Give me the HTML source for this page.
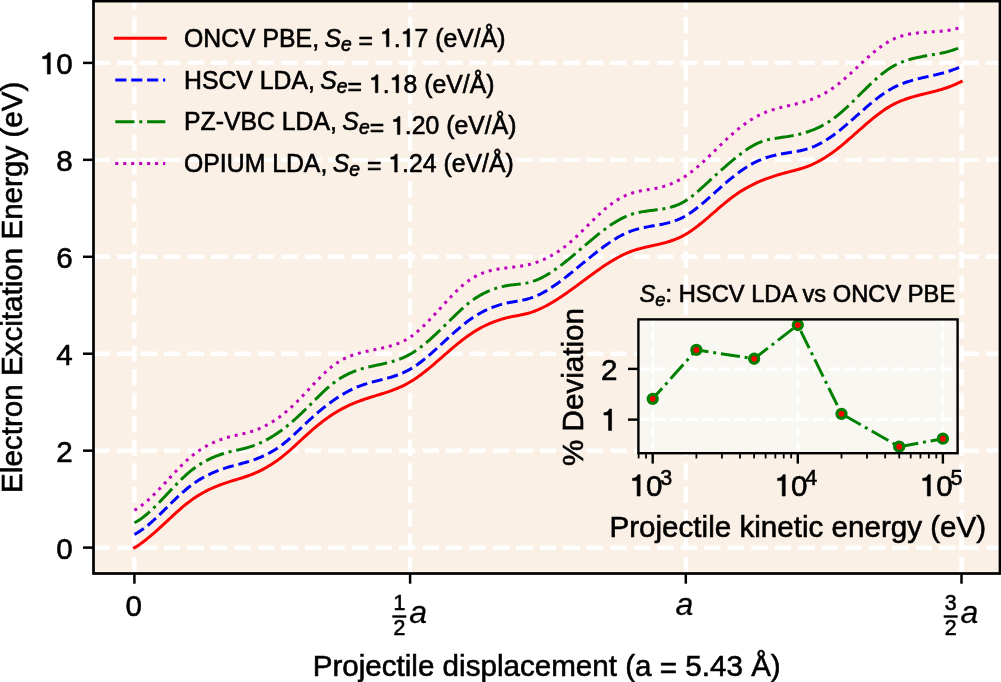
<!DOCTYPE html><html><head><meta charset="utf-8"><style>html,body{margin:0;padding:0;background:#fff;width:1001px;height:682px;overflow:hidden}svg{display:block}text{font-family:"Liberation Sans",sans-serif;fill:#000;stroke:#000;stroke-width:0.6px}.it{font-style:italic}.one{fill-opacity:0;stroke-opacity:0}</style></head><body>
<svg width="1001" height="682" viewBox="0 0 1001 682" style="will-change:transform">
<defs><path id="g1" d="M258 0L359 0L359 -703L285 -703C268 -640 220 -588 101 -581L101 -507L258 -507Z"/></defs>
<rect x="93.5" y="1.1" width="906.5" height="572.4" fill="#FAF0E6"/>
<line x1="93.5" y1="547.6" x2="1000.0" y2="547.6" stroke="#fff" stroke-width="4.4" stroke-dasharray="16.4 7.09"/>
<line x1="93.5" y1="450.66" x2="1000.0" y2="450.66" stroke="#fff" stroke-width="4.4" stroke-dasharray="16.4 7.09"/>
<line x1="93.5" y1="353.72" x2="1000.0" y2="353.72" stroke="#fff" stroke-width="4.4" stroke-dasharray="16.4 7.09"/>
<line x1="93.5" y1="256.78" x2="1000.0" y2="256.78" stroke="#fff" stroke-width="4.4" stroke-dasharray="16.4 7.09"/>
<line x1="93.5" y1="159.84" x2="1000.0" y2="159.84" stroke="#fff" stroke-width="4.4" stroke-dasharray="16.4 7.09"/>
<line x1="93.5" y1="62.9" x2="1000.0" y2="62.9" stroke="#fff" stroke-width="4.4" stroke-dasharray="16.4 7.09"/>
<line x1="134.4" y1="573.5" x2="134.4" y2="1.1" stroke="#fff" stroke-width="4.4" stroke-dasharray="16.4 7.09"/>
<line x1="410.1" y1="573.5" x2="410.1" y2="1.1" stroke="#fff" stroke-width="4.4" stroke-dasharray="16.4 7.09"/>
<line x1="685.8" y1="573.5" x2="685.8" y2="1.1" stroke="#fff" stroke-width="4.4" stroke-dasharray="16.4 7.09"/>
<line x1="961.5" y1="573.5" x2="961.5" y2="1.1" stroke="#fff" stroke-width="4.4" stroke-dasharray="16.4 7.09"/>
<g fill="none" stroke-width="3" stroke-linejoin="round">
<path d="M134.4 547.81 L135.9 546.89 L137.4 545.93 L138.9 544.93 L140.4 543.88 L141.9 542.8 L143.4 541.69 L144.9 540.54 L146.4 539.36 L147.9 538.16 L149.4 536.92 L150.9 535.66 L152.4 534.38 L153.9 533.08 L155.4 531.76 L156.9 530.42 L158.4 529.07 L159.9 527.71 L161.4 526.33 L162.9 524.95 L164.4 523.56 L165.9 522.17 L167.4 520.78 L168.9 519.38 L170.4 517.99 L171.9 516.6 L173.4 515.22 L174.9 513.84 L176.4 512.48 L177.9 511.14 L179.4 509.81 L180.9 508.5 L182.4 507.21 L183.9 505.95 L185.4 504.71 L186.9 503.5 L188.4 502.33 L189.9 501.19 L191.4 500.09 L192.9 499.03 L194.4 498 L195.9 497 L197.4 496.04 L198.9 495.11 L200.4 494.22 L201.9 493.35 L203.4 492.52 L204.9 491.71 L206.4 490.93 L207.9 490.18 L209.4 489.45 L210.9 488.75 L212.4 488.07 L213.9 487.41 L215.4 486.78 L216.9 486.16 L218.4 485.57 L219.9 484.99 L221.4 484.44 L222.9 483.9 L224.4 483.37 L225.9 482.86 L227.4 482.36 L228.9 481.87 L230.4 481.4 L231.9 480.94 L233.4 480.48 L234.9 480.03 L236.4 479.58 L237.9 479.13 L239.4 478.68 L240.9 478.22 L242.4 477.75 L243.9 477.27 L245.4 476.77 L246.9 476.26 L248.4 475.73 L249.9 475.18 L251.4 474.61 L252.9 474.01 L254.4 473.38 L255.9 472.73 L257.4 472.05 L258.9 471.34 L260.4 470.61 L261.9 469.85 L263.4 469.06 L264.9 468.25 L266.4 467.4 L267.9 466.53 L269.4 465.63 L270.9 464.7 L272.4 463.74 L273.9 462.75 L275.4 461.73 L276.9 460.68 L278.4 459.6 L279.9 458.48 L281.4 457.34 L282.9 456.16 L284.4 454.95 L285.9 453.71 L287.4 452.45 L288.9 451.15 L290.4 449.83 L291.9 448.5 L293.4 447.14 L294.9 445.78 L296.4 444.4 L297.9 443.01 L299.4 441.62 L300.9 440.23 L302.4 438.84 L303.9 437.46 L305.4 436.08 L306.9 434.72 L308.4 433.36 L309.9 432.03 L311.4 430.71 L312.9 429.41 L314.4 428.13 L315.9 426.87 L317.4 425.63 L318.9 424.42 L320.4 423.22 L321.9 422.05 L323.4 420.91 L324.9 419.78 L326.4 418.68 L327.9 417.61 L329.4 416.56 L330.9 415.54 L332.4 414.55 L333.9 413.58 L335.4 412.65 L336.9 411.74 L338.4 410.86 L339.9 410 L341.4 409.17 L342.9 408.37 L344.4 407.59 L345.9 406.84 L347.4 406.11 L348.9 405.4 L350.4 404.72 L351.9 404.06 L353.4 403.42 L354.9 402.8 L356.4 402.19 L357.9 401.61 L359.4 401.05 L360.9 400.5 L362.4 399.97 L363.9 399.46 L365.4 398.95 L366.9 398.46 L368.4 397.98 L369.9 397.5 L371.4 397.04 L372.9 396.57 L374.4 396.11 L375.9 395.65 L377.4 395.19 L378.9 394.73 L380.4 394.27 L381.9 393.8 L383.4 393.33 L384.9 392.84 L386.4 392.35 L387.9 391.85 L389.4 391.33 L390.9 390.8 L392.4 390.25 L393.9 389.69 L395.4 389.1 L396.9 388.5 L398.4 387.87 L399.9 387.21 L401.4 386.53 L402.9 385.82 L404.4 385.08 L405.9 384.31 L407.4 383.51 L408.9 382.67 L410.4 381.79 L411.9 380.87 L413.4 379.92 L414.9 378.93 L416.4 377.91 L417.9 376.86 L419.4 375.79 L420.9 374.68 L422.4 373.55 L423.9 372.39 L425.4 371.21 L426.9 370.01 L428.4 368.79 L429.9 367.56 L431.4 366.31 L432.9 365.04 L434.4 363.77 L435.9 362.48 L437.4 361.19 L438.9 359.89 L440.4 358.58 L441.9 357.27 L443.4 355.96 L444.9 354.66 L446.4 353.35 L447.9 352.05 L449.4 350.75 L450.9 349.46 L452.4 348.18 L453.9 346.91 L455.4 345.65 L456.9 344.41 L458.4 343.19 L459.9 341.98 L461.4 340.79 L462.9 339.62 L464.4 338.48 L465.9 337.36 L467.4 336.27 L468.9 335.21 L470.4 334.18 L471.9 333.17 L473.4 332.2 L474.9 331.26 L476.4 330.36 L477.9 329.48 L479.4 328.63 L480.9 327.8 L482.4 327.01 L483.9 326.25 L485.4 325.51 L486.9 324.8 L488.4 324.12 L489.9 323.47 L491.4 322.84 L492.9 322.23 L494.4 321.66 L495.9 321.11 L497.4 320.58 L498.9 320.07 L500.4 319.59 L501.9 319.14 L503.4 318.71 L504.9 318.3 L506.4 317.91 L507.9 317.54 L509.4 317.2 L510.9 316.87 L512.4 316.57 L513.9 316.27 L515.4 315.98 L516.9 315.69 L518.4 315.41 L519.9 315.11 L521.4 314.81 L522.9 314.5 L524.4 314.17 L525.9 313.81 L527.4 313.43 L528.9 313.02 L530.4 312.58 L531.9 312.09 L533.4 311.57 L534.9 311.02 L536.4 310.43 L537.9 309.81 L539.4 309.16 L540.9 308.48 L542.4 307.76 L543.9 307.02 L545.4 306.25 L546.9 305.46 L548.4 304.63 L549.9 303.79 L551.4 302.92 L552.9 302.03 L554.4 301.11 L555.9 300.18 L557.4 299.23 L558.9 298.26 L560.4 297.27 L561.9 296.27 L563.4 295.25 L564.9 294.22 L566.4 293.17 L567.9 292.12 L569.4 291.05 L570.9 289.98 L572.4 288.89 L573.9 287.8 L575.4 286.7 L576.9 285.6 L578.4 284.49 L579.9 283.38 L581.4 282.27 L582.9 281.16 L584.4 280.05 L585.9 278.94 L587.4 277.83 L588.9 276.72 L590.4 275.62 L591.9 274.53 L593.4 273.44 L594.9 272.36 L596.4 271.28 L597.9 270.22 L599.4 269.17 L600.9 268.13 L602.4 267.1 L603.9 266.09 L605.4 265.09 L606.9 264.11 L608.4 263.15 L609.9 262.2 L611.4 261.27 L612.9 260.37 L614.4 259.48 L615.9 258.62 L617.4 257.78 L618.9 256.97 L620.4 256.18 L621.9 255.42 L623.4 254.69 L624.9 253.99 L626.4 253.31 L627.9 252.67 L629.4 252.06 L630.9 251.48 L632.4 250.94 L633.9 250.42 L635.4 249.94 L636.9 249.48 L638.4 249.04 L639.9 248.62 L641.4 248.22 L642.9 247.84 L644.4 247.48 L645.9 247.12 L647.4 246.78 L648.9 246.44 L650.4 246.11 L651.9 245.78 L653.4 245.45 L654.9 245.12 L656.4 244.79 L657.9 244.45 L659.4 244.1 L660.9 243.74 L662.4 243.37 L663.9 242.98 L665.4 242.58 L666.9 242.16 L668.4 241.71 L669.9 241.24 L671.4 240.75 L672.9 240.23 L674.4 239.67 L675.9 239.08 L677.4 238.46 L678.9 237.8 L680.4 237.1 L681.9 236.36 L683.4 235.57 L684.9 234.74 L686.4 233.86 L687.9 232.94 L689.4 231.97 L690.9 230.97 L692.4 229.93 L693.9 228.86 L695.4 227.75 L696.9 226.62 L698.4 225.46 L699.9 224.27 L701.4 223.06 L702.9 221.83 L704.4 220.59 L705.9 219.33 L707.4 218.05 L708.9 216.77 L710.4 215.48 L711.9 214.18 L713.4 212.88 L714.9 211.58 L716.4 210.28 L717.9 208.98 L719.4 207.69 L720.9 206.41 L722.4 205.14 L723.9 203.88 L725.4 202.64 L726.9 201.42 L728.4 200.22 L729.9 199.04 L731.4 197.88 L732.9 196.76 L734.4 195.66 L735.9 194.6 L737.4 193.56 L738.9 192.56 L740.4 191.59 L741.9 190.64 L743.4 189.73 L744.9 188.84 L746.4 187.98 L747.9 187.14 L749.4 186.33 L750.9 185.55 L752.4 184.79 L753.9 184.05 L755.4 183.34 L756.9 182.64 L758.4 181.97 L759.9 181.32 L761.4 180.69 L762.9 180.08 L764.4 179.49 L765.9 178.92 L767.4 178.37 L768.9 177.83 L770.4 177.3 L771.9 176.8 L773.4 176.3 L774.9 175.83 L776.4 175.36 L777.9 174.91 L779.4 174.47 L780.9 174.04 L782.4 173.62 L783.9 173.21 L785.4 172.81 L786.9 172.42 L788.4 172.03 L789.9 171.65 L791.4 171.26 L792.9 170.87 L794.4 170.48 L795.9 170.07 L797.4 169.66 L798.9 169.23 L800.4 168.79 L801.9 168.33 L803.4 167.85 L804.9 167.34 L806.4 166.81 L807.9 166.26 L809.4 165.67 L810.9 165.05 L812.4 164.39 L813.9 163.71 L815.4 162.98 L816.9 162.23 L818.4 161.44 L819.9 160.63 L821.4 159.78 L822.9 158.9 L824.4 157.98 L825.9 157.04 L827.4 156.07 L828.9 155.07 L830.4 154.04 L831.9 152.97 L833.4 151.88 L834.9 150.77 L836.4 149.62 L837.9 148.45 L839.4 147.26 L840.9 146.04 L842.4 144.81 L843.9 143.56 L845.4 142.29 L846.9 141.01 L848.4 139.71 L849.9 138.41 L851.4 137.1 L852.9 135.78 L854.4 134.45 L855.9 133.13 L857.4 131.8 L858.9 130.47 L860.4 129.14 L861.9 127.82 L863.4 126.51 L864.9 125.21 L866.4 123.91 L867.9 122.63 L869.4 121.36 L870.9 120.1 L872.4 118.87 L873.9 117.65 L875.4 116.46 L876.9 115.28 L878.4 114.14 L879.9 113.02 L881.4 111.92 L882.9 110.86 L884.4 109.84 L885.9 108.84 L887.4 107.88 L888.9 106.96 L890.4 106.08 L891.9 105.24 L893.4 104.44 L894.9 103.68 L896.4 102.95 L897.9 102.26 L899.4 101.6 L900.9 100.97 L902.4 100.37 L903.9 99.8 L905.4 99.25 L906.9 98.72 L908.4 98.22 L909.9 97.74 L911.4 97.28 L912.9 96.84 L914.4 96.41 L915.9 95.99 L917.4 95.59 L918.9 95.2 L920.4 94.81 L921.9 94.44 L923.4 94.07 L924.9 93.7 L926.4 93.34 L927.9 92.97 L929.4 92.61 L930.9 92.24 L932.4 91.87 L933.9 91.49 L935.4 91.1 L936.9 90.71 L938.4 90.3 L939.9 89.88 L941.4 89.44 L942.9 88.99 L944.4 88.52 L945.9 88.03 L947.4 87.52 L948.9 86.99 L950.4 86.43 L951.9 85.84 L953.4 85.23 L954.9 84.59 L956.4 83.91 L957.9 83.21 L959.4 82.47 L961.2 81.53" stroke="#ff0000" stroke-linecap="square" />
<path d="M134.4 534.38 L135.9 533.6 L137.4 532.75 L138.9 531.85 L140.4 530.88 L141.9 529.85 L143.4 528.77 L144.9 527.65 L146.4 526.47 L147.9 525.25 L149.4 523.99 L150.9 522.7 L152.4 521.37 L153.9 520 L155.4 518.62 L156.9 517.2 L158.4 515.77 L159.9 514.32 L161.4 512.86 L162.9 511.38 L164.4 509.9 L165.9 508.41 L167.4 506.92 L168.9 505.43 L170.4 503.95 L171.9 502.47 L173.4 501.01 L174.9 499.56 L176.4 498.13 L177.9 496.71 L179.4 495.31 L180.9 493.94 L182.4 492.59 L183.9 491.28 L185.4 489.99 L186.9 488.73 L188.4 487.51 L189.9 486.33 L191.4 485.19 L192.9 484.09 L194.4 483.03 L195.9 482 L197.4 481.01 L198.9 480.06 L200.4 479.14 L201.9 478.26 L203.4 477.41 L204.9 476.59 L206.4 475.8 L207.9 475.04 L209.4 474.31 L210.9 473.61 L212.4 472.93 L213.9 472.28 L215.4 471.66 L216.9 471.05 L218.4 470.47 L219.9 469.92 L221.4 469.38 L222.9 468.86 L224.4 468.36 L225.9 467.88 L227.4 467.41 L228.9 466.96 L230.4 466.53 L231.9 466.11 L233.4 465.7 L234.9 465.29 L236.4 464.89 L237.9 464.5 L239.4 464.11 L240.9 463.71 L242.4 463.31 L243.9 462.9 L245.4 462.48 L246.9 462.05 L248.4 461.61 L249.9 461.15 L251.4 460.66 L252.9 460.16 L254.4 459.64 L255.9 459.09 L257.4 458.52 L258.9 457.92 L260.4 457.3 L261.9 456.65 L263.4 455.98 L264.9 455.27 L266.4 454.53 L267.9 453.77 L269.4 452.97 L270.9 452.14 L272.4 451.27 L273.9 450.37 L275.4 449.44 L276.9 448.46 L278.4 447.45 L279.9 446.4 L281.4 445.31 L282.9 444.18 L284.4 443 L285.9 441.79 L287.4 440.53 L288.9 439.25 L290.4 437.93 L291.9 436.58 L293.4 435.21 L294.9 433.82 L296.4 432.41 L297.9 430.99 L299.4 429.56 L300.9 428.13 L302.4 426.69 L303.9 425.26 L305.4 423.83 L306.9 422.41 L308.4 421 L309.9 419.61 L311.4 418.24 L312.9 416.89 L314.4 415.55 L315.9 414.23 L317.4 412.94 L318.9 411.66 L320.4 410.4 L321.9 409.17 L323.4 407.95 L324.9 406.76 L326.4 405.59 L327.9 404.44 L329.4 403.31 L330.9 402.21 L332.4 401.13 L333.9 400.07 L335.4 399.04 L336.9 398.03 L338.4 397.05 L339.9 396.09 L341.4 395.16 L342.9 394.26 L344.4 393.38 L345.9 392.53 L347.4 391.7 L348.9 390.91 L350.4 390.14 L351.9 389.4 L353.4 388.69 L354.9 388.01 L356.4 387.36 L357.9 386.73 L359.4 386.14 L360.9 385.58 L362.4 385.05 L363.9 384.54 L365.4 384.06 L366.9 383.6 L368.4 383.15 L369.9 382.73 L371.4 382.31 L372.9 381.91 L374.4 381.52 L375.9 381.14 L377.4 380.76 L378.9 380.38 L380.4 380 L381.9 379.62 L383.4 379.24 L384.9 378.85 L386.4 378.46 L387.9 378.05 L389.4 377.63 L390.9 377.19 L392.4 376.73 L393.9 376.26 L395.4 375.76 L396.9 375.24 L398.4 374.69 L399.9 374.11 L401.4 373.5 L402.9 372.86 L404.4 372.18 L405.9 371.46 L407.4 370.7 L408.9 369.9 L410.4 369.05 L411.9 368.16 L413.4 367.22 L414.9 366.24 L416.4 365.22 L417.9 364.16 L419.4 363.06 L420.9 361.93 L422.4 360.77 L423.9 359.58 L425.4 358.37 L426.9 357.12 L428.4 355.86 L429.9 354.57 L431.4 353.26 L432.9 351.93 L434.4 350.59 L435.9 349.24 L437.4 347.88 L438.9 346.5 L440.4 345.13 L441.9 343.74 L443.4 342.35 L444.9 340.97 L446.4 339.58 L447.9 338.2 L449.4 336.82 L450.9 335.45 L452.4 334.09 L453.9 332.75 L455.4 331.41 L456.9 330.1 L458.4 328.8 L459.9 327.52 L461.4 326.26 L462.9 325.03 L464.4 323.83 L465.9 322.65 L467.4 321.51 L468.9 320.39 L470.4 319.32 L471.9 318.27 L473.4 317.27 L474.9 316.3 L476.4 315.36 L477.9 314.46 L479.4 313.59 L480.9 312.76 L482.4 311.95 L483.9 311.18 L485.4 310.45 L486.9 309.74 L488.4 309.06 L489.9 308.41 L491.4 307.79 L492.9 307.21 L494.4 306.64 L495.9 306.11 L497.4 305.61 L498.9 305.13 L500.4 304.67 L501.9 304.25 L503.4 303.85 L504.9 303.47 L506.4 303.11 L507.9 302.78 L509.4 302.48 L510.9 302.19 L512.4 301.92 L513.9 301.67 L515.4 301.41 L516.9 301.16 L518.4 300.91 L519.9 300.65 L521.4 300.38 L522.9 300.08 L524.4 299.77 L525.9 299.42 L527.4 299.05 L528.9 298.63 L530.4 298.18 L531.9 297.67 L533.4 297.13 L534.9 296.54 L536.4 295.91 L537.9 295.23 L539.4 294.52 L540.9 293.78 L542.4 292.99 L543.9 292.17 L545.4 291.32 L546.9 290.43 L548.4 289.52 L549.9 288.57 L551.4 287.6 L552.9 286.6 L554.4 285.58 L555.9 284.53 L557.4 283.46 L558.9 282.37 L560.4 281.26 L561.9 280.13 L563.4 278.99 L564.9 277.83 L566.4 276.65 L567.9 275.47 L569.4 274.27 L570.9 273.06 L572.4 271.84 L573.9 270.62 L575.4 269.39 L576.9 268.16 L578.4 266.92 L579.9 265.68 L581.4 264.44 L582.9 263.2 L584.4 261.97 L585.9 260.73 L587.4 259.5 L588.9 258.27 L590.4 257.06 L591.9 255.84 L593.4 254.64 L594.9 253.45 L596.4 252.27 L597.9 251.1 L599.4 249.95 L600.9 248.81 L602.4 247.69 L603.9 246.58 L605.4 245.5 L606.9 244.43 L608.4 243.39 L609.9 242.37 L611.4 241.37 L612.9 240.4 L614.4 239.46 L615.9 238.54 L617.4 237.65 L618.9 236.8 L620.4 235.97 L621.9 235.18 L623.4 234.42 L624.9 233.69 L626.4 233 L627.9 232.35 L629.4 231.74 L630.9 231.17 L632.4 230.64 L633.9 230.14 L635.4 229.68 L636.9 229.25 L638.4 228.85 L639.9 228.48 L641.4 228.12 L642.9 227.79 L644.4 227.48 L645.9 227.18 L647.4 226.89 L648.9 226.62 L650.4 226.35 L651.9 226.09 L653.4 225.83 L654.9 225.57 L656.4 225.31 L657.9 225.04 L659.4 224.76 L660.9 224.47 L662.4 224.17 L663.9 223.85 L665.4 223.51 L666.9 223.16 L668.4 222.77 L669.9 222.37 L671.4 221.93 L672.9 221.46 L674.4 220.95 L675.9 220.41 L677.4 219.83 L678.9 219.21 L680.4 218.54 L681.9 217.82 L683.4 217.05 L684.9 216.23 L686.4 215.36 L687.9 214.44 L689.4 213.47 L690.9 212.46 L692.4 211.41 L693.9 210.31 L695.4 209.19 L696.9 208.03 L698.4 206.84 L699.9 205.62 L701.4 204.37 L702.9 203.11 L704.4 201.83 L705.9 200.53 L707.4 199.21 L708.9 197.89 L710.4 196.56 L711.9 195.22 L713.4 193.88 L714.9 192.54 L716.4 191.2 L717.9 189.86 L719.4 188.52 L720.9 187.19 L722.4 185.87 L723.9 184.56 L725.4 183.26 L726.9 181.97 L728.4 180.7 L729.9 179.45 L731.4 178.21 L732.9 177 L734.4 175.81 L735.9 174.64 L737.4 173.5 L738.9 172.39 L740.4 171.3 L741.9 170.24 L743.4 169.21 L744.9 168.21 L746.4 167.24 L747.9 166.3 L749.4 165.39 L750.9 164.52 L752.4 163.68 L753.9 162.87 L755.4 162.1 L756.9 161.37 L758.4 160.68 L759.9 160.02 L761.4 159.4 L762.9 158.82 L764.4 158.27 L765.9 157.75 L767.4 157.27 L768.9 156.81 L770.4 156.38 L771.9 155.98 L773.4 155.6 L774.9 155.25 L776.4 154.91 L777.9 154.59 L779.4 154.29 L780.9 154.01 L782.4 153.74 L783.9 153.48 L785.4 153.23 L786.9 152.99 L788.4 152.76 L789.9 152.52 L791.4 152.29 L792.9 152.04 L794.4 151.8 L795.9 151.54 L797.4 151.26 L798.9 150.98 L800.4 150.67 L801.9 150.33 L803.4 149.98 L804.9 149.59 L806.4 149.17 L807.9 148.72 L809.4 148.23 L810.9 147.7 L812.4 147.12 L813.9 146.51 L815.4 145.86 L816.9 145.16 L818.4 144.43 L819.9 143.66 L821.4 142.85 L822.9 142.01 L824.4 141.13 L825.9 140.22 L827.4 139.27 L828.9 138.3 L830.4 137.28 L831.9 136.24 L833.4 135.17 L834.9 134.06 L836.4 132.93 L837.9 131.77 L839.4 130.58 L840.9 129.38 L842.4 128.15 L843.9 126.9 L845.4 125.64 L846.9 124.36 L848.4 123.07 L849.9 121.76 L851.4 120.45 L852.9 119.13 L854.4 117.81 L855.9 116.48 L857.4 115.15 L858.9 113.82 L860.4 112.49 L861.9 111.16 L863.4 109.84 L864.9 108.53 L866.4 107.23 L867.9 105.94 L869.4 104.67 L870.9 103.41 L872.4 102.17 L873.9 100.95 L875.4 99.75 L876.9 98.57 L878.4 97.41 L879.9 96.29 L881.4 95.19 L882.9 94.13 L884.4 93.1 L885.9 92.1 L887.4 91.14 L888.9 90.22 L890.4 89.33 L891.9 88.49 L893.4 87.69 L894.9 86.93 L896.4 86.21 L897.9 85.52 L899.4 84.86 L900.9 84.23 L902.4 83.64 L903.9 83.07 L905.4 82.53 L906.9 82.02 L908.4 81.53 L909.9 81.06 L911.4 80.61 L912.9 80.18 L914.4 79.77 L915.9 79.37 L917.4 78.99 L918.9 78.62 L920.4 78.26 L921.9 77.91 L923.4 77.56 L924.9 77.22 L926.4 76.89 L927.9 76.56 L929.4 76.23 L930.9 75.89 L932.4 75.56 L933.9 75.22 L935.4 74.88 L936.9 74.53 L938.4 74.16 L939.9 73.79 L941.4 73.41 L942.9 73.01 L944.4 72.6 L945.9 72.17 L947.4 71.72 L948.9 71.25 L950.4 70.76 L951.9 70.24 L953.4 69.7 L954.9 69.13 L956.4 68.54 L957.9 67.91 L959.4 67.25 L961.2 66.42" stroke="#0000ff" stroke-linecap="butt" stroke-dasharray="11.10 4.80"/>
<path d="M134.4 522.74 L135.9 521.96 L137.4 521.1 L138.9 520.16 L140.4 519.16 L141.9 518.1 L143.4 516.98 L144.9 515.8 L146.4 514.57 L147.9 513.29 L149.4 511.97 L150.9 510.6 L152.4 509.19 L153.9 507.75 L155.4 506.28 L156.9 504.78 L158.4 503.26 L159.9 501.71 L161.4 500.15 L162.9 498.57 L164.4 496.98 L165.9 495.39 L167.4 493.79 L168.9 492.2 L170.4 490.61 L171.9 489.02 L173.4 487.45 L174.9 485.89 L176.4 484.34 L177.9 482.81 L179.4 481.31 L180.9 479.83 L182.4 478.38 L183.9 476.97 L185.4 475.58 L186.9 474.24 L188.4 472.93 L189.9 471.67 L191.4 470.45 L192.9 469.28 L194.4 468.15 L195.9 467.07 L197.4 466.03 L198.9 465.03 L200.4 464.07 L201.9 463.15 L203.4 462.27 L204.9 461.42 L206.4 460.61 L207.9 459.84 L209.4 459.1 L210.9 458.39 L212.4 457.72 L213.9 457.07 L215.4 456.45 L216.9 455.86 L218.4 455.3 L219.9 454.77 L221.4 454.26 L222.9 453.77 L224.4 453.31 L225.9 452.87 L227.4 452.45 L228.9 452.05 L230.4 451.67 L231.9 451.3 L233.4 450.95 L234.9 450.61 L236.4 450.27 L237.9 449.94 L239.4 449.61 L240.9 449.26 L242.4 448.92 L243.9 448.55 L245.4 448.18 L246.9 447.78 L248.4 447.36 L249.9 446.91 L251.4 446.43 L252.9 445.92 L254.4 445.38 L255.9 444.81 L257.4 444.21 L258.9 443.58 L260.4 442.91 L261.9 442.22 L263.4 441.49 L264.9 440.74 L266.4 439.95 L267.9 439.14 L269.4 438.29 L270.9 437.41 L272.4 436.5 L273.9 435.56 L275.4 434.6 L276.9 433.6 L278.4 432.57 L279.9 431.51 L281.4 430.42 L282.9 429.3 L284.4 428.15 L285.9 426.97 L287.4 425.76 L288.9 424.53 L290.4 423.27 L291.9 421.98 L293.4 420.67 L294.9 419.34 L296.4 417.99 L297.9 416.61 L299.4 415.22 L300.9 413.81 L302.4 412.39 L303.9 410.95 L305.4 409.49 L306.9 408.02 L308.4 406.54 L309.9 405.06 L311.4 403.56 L312.9 402.06 L314.4 400.56 L315.9 399.06 L317.4 397.57 L318.9 396.09 L320.4 394.62 L321.9 393.18 L323.4 391.75 L324.9 390.35 L326.4 388.98 L327.9 387.65 L329.4 386.35 L330.9 385.09 L332.4 383.87 L333.9 382.7 L335.4 381.58 L336.9 380.52 L338.4 379.5 L339.9 378.53 L341.4 377.6 L342.9 376.72 L344.4 375.88 L345.9 375.09 L347.4 374.33 L348.9 373.61 L350.4 372.93 L351.9 372.28 L353.4 371.67 L354.9 371.09 L356.4 370.54 L357.9 370.02 L359.4 369.53 L360.9 369.07 L362.4 368.63 L363.9 368.21 L365.4 367.81 L366.9 367.43 L368.4 367.06 L369.9 366.71 L371.4 366.37 L372.9 366.03 L374.4 365.71 L375.9 365.38 L377.4 365.06 L378.9 364.74 L380.4 364.42 L381.9 364.09 L383.4 363.76 L384.9 363.41 L386.4 363.06 L387.9 362.69 L389.4 362.31 L390.9 361.9 L392.4 361.48 L393.9 361.04 L395.4 360.57 L396.9 360.07 L398.4 359.55 L399.9 358.99 L401.4 358.41 L402.9 357.78 L404.4 357.12 L405.9 356.42 L407.4 355.67 L408.9 354.89 L410.4 354.05 L411.9 353.17 L413.4 352.24 L414.9 351.27 L416.4 350.25 L417.9 349.2 L419.4 348.1 L420.9 346.97 L422.4 345.81 L423.9 344.61 L425.4 343.38 L426.9 342.12 L428.4 340.84 L429.9 339.53 L431.4 338.19 L432.9 336.84 L434.4 335.46 L435.9 334.06 L437.4 332.65 L438.9 331.23 L440.4 329.79 L441.9 328.34 L443.4 326.88 L444.9 325.41 L446.4 323.94 L447.9 322.47 L449.4 320.99 L450.9 319.51 L452.4 318.04 L453.9 316.57 L455.4 315.12 L456.9 313.67 L458.4 312.25 L459.9 310.84 L461.4 309.45 L462.9 308.1 L464.4 306.77 L465.9 305.48 L467.4 304.22 L468.9 303.01 L470.4 301.83 L471.9 300.71 L473.4 299.63 L474.9 298.59 L476.4 297.6 L477.9 296.65 L479.4 295.75 L480.9 294.88 L482.4 294.06 L483.9 293.27 L485.4 292.53 L486.9 291.82 L488.4 291.15 L489.9 290.52 L491.4 289.92 L492.9 289.36 L494.4 288.83 L495.9 288.34 L497.4 287.87 L498.9 287.44 L500.4 287.05 L501.9 286.68 L503.4 286.34 L504.9 286.03 L506.4 285.75 L507.9 285.49 L509.4 285.27 L510.9 285.06 L512.4 284.88 L513.9 284.7 L515.4 284.54 L516.9 284.38 L518.4 284.21 L519.9 284.04 L521.4 283.85 L522.9 283.65 L524.4 283.41 L525.9 283.15 L527.4 282.85 L528.9 282.51 L530.4 282.13 L531.9 281.69 L533.4 281.2 L534.9 280.67 L536.4 280.09 L537.9 279.46 L539.4 278.79 L540.9 278.08 L542.4 277.33 L543.9 276.54 L545.4 275.71 L546.9 274.85 L548.4 273.95 L549.9 273.02 L551.4 272.06 L552.9 271.07 L554.4 270.05 L555.9 269 L557.4 267.93 L558.9 266.83 L560.4 265.71 L561.9 264.57 L563.4 263.41 L564.9 262.23 L566.4 261.03 L567.9 259.82 L569.4 258.59 L570.9 257.35 L572.4 256.1 L573.9 254.85 L575.4 253.58 L576.9 252.31 L578.4 251.03 L579.9 249.75 L581.4 248.46 L582.9 247.18 L584.4 245.9 L585.9 244.61 L587.4 243.34 L588.9 242.06 L590.4 240.8 L591.9 239.54 L593.4 238.29 L594.9 237.06 L596.4 235.83 L597.9 234.62 L599.4 233.43 L600.9 232.25 L602.4 231.09 L603.9 229.95 L605.4 228.83 L606.9 227.74 L608.4 226.67 L609.9 225.62 L611.4 224.61 L612.9 223.62 L614.4 222.66 L615.9 221.73 L617.4 220.84 L618.9 219.98 L620.4 219.15 L621.9 218.37 L623.4 217.62 L624.9 216.91 L626.4 216.25 L627.9 215.63 L629.4 215.05 L630.9 214.52 L632.4 214.03 L633.9 213.59 L635.4 213.19 L636.9 212.82 L638.4 212.48 L639.9 212.17 L641.4 211.89 L642.9 211.63 L644.4 211.4 L645.9 211.18 L647.4 210.97 L648.9 210.77 L650.4 210.58 L651.9 210.4 L653.4 210.22 L654.9 210.03 L656.4 209.84 L657.9 209.64 L659.4 209.43 L660.9 209.21 L662.4 208.97 L663.9 208.71 L665.4 208.42 L666.9 208.11 L668.4 207.77 L669.9 207.39 L671.4 206.98 L672.9 206.53 L674.4 206.04 L675.9 205.5 L677.4 204.91 L678.9 204.27 L680.4 203.58 L681.9 202.83 L683.4 202.01 L684.9 201.14 L686.4 200.2 L687.9 199.2 L689.4 198.14 L690.9 197.04 L692.4 195.89 L693.9 194.7 L695.4 193.46 L696.9 192.2 L698.4 190.9 L699.9 189.58 L701.4 188.24 L702.9 186.88 L704.4 185.51 L705.9 184.12 L707.4 182.74 L708.9 181.35 L710.4 179.96 L711.9 178.59 L713.4 177.21 L714.9 175.85 L716.4 174.49 L717.9 173.14 L719.4 171.8 L720.9 170.47 L722.4 169.15 L723.9 167.84 L725.4 166.54 L726.9 165.24 L728.4 163.96 L729.9 162.69 L731.4 161.43 L732.9 160.19 L734.4 158.95 L735.9 157.73 L737.4 156.53 L738.9 155.34 L740.4 154.18 L741.9 153.04 L743.4 151.92 L744.9 150.84 L746.4 149.79 L747.9 148.78 L749.4 147.8 L750.9 146.87 L752.4 145.98 L753.9 145.13 L755.4 144.34 L756.9 143.59 L758.4 142.91 L759.9 142.28 L761.4 141.7 L762.9 141.18 L764.4 140.71 L765.9 140.28 L767.4 139.89 L768.9 139.54 L770.4 139.21 L771.9 138.92 L773.4 138.65 L774.9 138.4 L776.4 138.17 L777.9 137.95 L779.4 137.73 L780.9 137.52 L782.4 137.31 L783.9 137.1 L785.4 136.87 L786.9 136.64 L788.4 136.4 L789.9 136.14 L791.4 135.87 L792.9 135.59 L794.4 135.29 L795.9 134.97 L797.4 134.64 L798.9 134.29 L800.4 133.92 L801.9 133.53 L803.4 133.11 L804.9 132.68 L806.4 132.22 L807.9 131.73 L809.4 131.22 L810.9 130.69 L812.4 130.12 L813.9 129.52 L815.4 128.9 L816.9 128.24 L818.4 127.55 L819.9 126.83 L821.4 126.07 L822.9 125.28 L824.4 124.45 L825.9 123.58 L827.4 122.67 L828.9 121.72 L830.4 120.73 L831.9 119.7 L833.4 118.63 L834.9 117.51 L836.4 116.35 L837.9 115.15 L839.4 113.91 L840.9 112.63 L842.4 111.32 L843.9 109.99 L845.4 108.62 L846.9 107.23 L848.4 105.82 L849.9 104.38 L851.4 102.93 L852.9 101.47 L854.4 99.99 L855.9 98.51 L857.4 97.02 L858.9 95.52 L860.4 94.03 L861.9 92.53 L863.4 91.04 L864.9 89.56 L866.4 88.08 L867.9 86.62 L869.4 85.17 L870.9 83.74 L872.4 82.33 L873.9 80.94 L875.4 79.58 L876.9 78.24 L878.4 76.93 L879.9 75.66 L881.4 74.42 L882.9 73.23 L884.4 72.07 L885.9 70.95 L887.4 69.88 L888.9 68.86 L890.4 67.89 L891.9 66.98 L893.4 66.11 L894.9 65.3 L896.4 64.52 L897.9 63.8 L899.4 63.12 L900.9 62.47 L902.4 61.87 L903.9 61.3 L905.4 60.77 L906.9 60.27 L908.4 59.8 L909.9 59.36 L911.4 58.95 L912.9 58.56 L914.4 58.19 L915.9 57.84 L917.4 57.51 L918.9 57.2 L920.4 56.91 L921.9 56.62 L923.4 56.35 L924.9 56.08 L926.4 55.82 L927.9 55.57 L929.4 55.31 L930.9 55.06 L932.4 54.81 L933.9 54.55 L935.4 54.29 L936.9 54.01 L938.4 53.73 L939.9 53.44 L941.4 53.14 L942.9 52.81 L944.4 52.47 L945.9 52.12 L947.4 51.73 L948.9 51.33 L950.4 50.9 L951.9 50.44 L953.4 49.95 L954.9 49.43 L956.4 48.88 L957.9 48.29 L959.4 47.66 L961.2 46.86" stroke="#008000" stroke-linecap="butt" stroke-dasharray="19.20 4.80 3.00 4.80"/>
<path d="M134.4 510.23 L135.9 509.37 L137.4 508.44 L138.9 507.44 L140.4 506.39 L141.9 505.27 L143.4 504.1 L144.9 502.88 L146.4 501.6 L147.9 500.28 L149.4 498.92 L150.9 497.52 L152.4 496.08 L153.9 494.61 L155.4 493.11 L156.9 491.58 L158.4 490.02 L159.9 488.45 L161.4 486.86 L162.9 485.26 L164.4 483.64 L165.9 482.02 L167.4 480.39 L168.9 478.76 L170.4 477.13 L171.9 475.51 L173.4 473.9 L174.9 472.3 L176.4 470.71 L177.9 469.14 L179.4 467.59 L180.9 466.07 L182.4 464.57 L183.9 463.1 L185.4 461.67 L186.9 460.27 L188.4 458.92 L189.9 457.61 L191.4 456.34 L192.9 455.12 L194.4 453.95 L195.9 452.81 L197.4 451.73 L198.9 450.68 L200.4 449.68 L201.9 448.71 L203.4 447.78 L204.9 446.9 L206.4 446.04 L207.9 445.23 L209.4 444.45 L210.9 443.7 L212.4 442.99 L213.9 442.31 L215.4 441.66 L216.9 441.04 L218.4 440.45 L219.9 439.89 L221.4 439.35 L222.9 438.84 L224.4 438.36 L225.9 437.9 L227.4 437.46 L228.9 437.05 L230.4 436.65 L231.9 436.28 L233.4 435.92 L234.9 435.58 L236.4 435.24 L237.9 434.91 L239.4 434.57 L240.9 434.24 L242.4 433.9 L243.9 433.55 L245.4 433.18 L246.9 432.8 L248.4 432.4 L249.9 431.97 L251.4 431.51 L252.9 431.02 L254.4 430.51 L255.9 429.96 L257.4 429.39 L258.9 428.78 L260.4 428.14 L261.9 427.46 L263.4 426.76 L264.9 426.02 L266.4 425.25 L267.9 424.44 L269.4 423.6 L270.9 422.72 L272.4 421.81 L273.9 420.86 L275.4 419.88 L276.9 418.85 L278.4 417.79 L279.9 416.69 L281.4 415.56 L282.9 414.38 L284.4 413.16 L285.9 411.91 L287.4 410.61 L288.9 409.29 L290.4 407.93 L291.9 406.53 L293.4 405.11 L294.9 403.66 L296.4 402.19 L297.9 400.7 L299.4 399.18 L300.9 397.65 L302.4 396.1 L303.9 394.53 L305.4 392.96 L306.9 391.37 L308.4 389.78 L309.9 388.18 L311.4 386.58 L312.9 384.98 L314.4 383.38 L315.9 381.8 L317.4 380.23 L318.9 378.68 L320.4 377.15 L321.9 375.64 L323.4 374.17 L324.9 372.73 L326.4 371.33 L327.9 369.97 L329.4 368.66 L330.9 367.4 L332.4 366.19 L333.9 365.05 L335.4 363.96 L336.9 362.93 L338.4 361.97 L339.9 361.05 L341.4 360.19 L342.9 359.39 L344.4 358.63 L345.9 357.91 L347.4 357.24 L348.9 356.61 L350.4 356.01 L351.9 355.45 L353.4 354.93 L354.9 354.43 L356.4 353.96 L357.9 353.52 L359.4 353.1 L360.9 352.7 L362.4 352.32 L363.9 351.96 L365.4 351.61 L366.9 351.27 L368.4 350.94 L369.9 350.62 L371.4 350.3 L372.9 349.99 L374.4 349.68 L375.9 349.38 L377.4 349.06 L378.9 348.75 L380.4 348.43 L381.9 348.1 L383.4 347.76 L384.9 347.41 L386.4 347.04 L387.9 346.66 L389.4 346.26 L390.9 345.84 L392.4 345.39 L393.9 344.92 L395.4 344.42 L396.9 343.88 L398.4 343.31 L399.9 342.7 L401.4 342.04 L402.9 341.34 L404.4 340.59 L405.9 339.78 L407.4 338.92 L408.9 338 L410.4 337.01 L411.9 335.96 L413.4 334.85 L414.9 333.68 L416.4 332.46 L417.9 331.18 L419.4 329.86 L420.9 328.49 L422.4 327.09 L423.9 325.64 L425.4 324.16 L426.9 322.65 L428.4 321.11 L429.9 319.54 L431.4 317.95 L432.9 316.35 L434.4 314.72 L435.9 313.09 L437.4 311.44 L438.9 309.79 L440.4 308.14 L441.9 306.49 L443.4 304.84 L444.9 303.19 L446.4 301.56 L447.9 299.94 L449.4 298.34 L450.9 296.75 L452.4 295.19 L453.9 293.66 L455.4 292.15 L456.9 290.68 L458.4 289.24 L459.9 287.84 L461.4 286.48 L462.9 285.17 L464.4 283.91 L465.9 282.69 L467.4 281.54 L468.9 280.44 L470.4 279.4 L471.9 278.43 L473.4 277.51 L474.9 276.65 L476.4 275.85 L477.9 275.11 L479.4 274.41 L480.9 273.76 L482.4 273.16 L483.9 272.6 L485.4 272.09 L486.9 271.61 L488.4 271.17 L489.9 270.77 L491.4 270.39 L492.9 270.05 L494.4 269.74 L495.9 269.44 L497.4 269.18 L498.9 268.93 L500.4 268.7 L501.9 268.48 L503.4 268.28 L504.9 268.09 L506.4 267.91 L507.9 267.73 L509.4 267.56 L510.9 267.39 L512.4 267.22 L513.9 267.04 L515.4 266.86 L516.9 266.67 L518.4 266.47 L519.9 266.25 L521.4 266.03 L522.9 265.78 L524.4 265.51 L525.9 265.22 L527.4 264.91 L528.9 264.57 L530.4 264.2 L531.9 263.79 L533.4 263.36 L534.9 262.9 L536.4 262.4 L537.9 261.87 L539.4 261.31 L540.9 260.71 L542.4 260.08 L543.9 259.42 L545.4 258.73 L546.9 258 L548.4 257.24 L549.9 256.45 L551.4 255.62 L552.9 254.75 L554.4 253.86 L555.9 252.92 L557.4 251.96 L558.9 250.95 L560.4 249.92 L561.9 248.84 L563.4 247.73 L564.9 246.59 L566.4 245.41 L567.9 244.19 L569.4 242.93 L570.9 241.64 L572.4 240.32 L573.9 238.96 L575.4 237.57 L576.9 236.16 L578.4 234.73 L579.9 233.27 L581.4 231.8 L582.9 230.32 L584.4 228.83 L585.9 227.33 L587.4 225.83 L588.9 224.33 L590.4 222.83 L591.9 221.34 L593.4 219.85 L594.9 218.38 L596.4 216.93 L597.9 215.49 L599.4 214.07 L600.9 212.68 L602.4 211.32 L603.9 209.99 L605.4 208.7 L606.9 207.44 L608.4 206.22 L609.9 205.05 L611.4 203.92 L612.9 202.84 L614.4 201.8 L615.9 200.81 L617.4 199.87 L618.9 198.97 L620.4 198.12 L621.9 197.31 L623.4 196.55 L624.9 195.83 L626.4 195.17 L627.9 194.55 L629.4 193.97 L630.9 193.44 L632.4 192.96 L633.9 192.52 L635.4 192.11 L636.9 191.74 L638.4 191.4 L639.9 191.08 L641.4 190.78 L642.9 190.5 L644.4 190.24 L645.9 189.98 L647.4 189.74 L648.9 189.49 L650.4 189.24 L651.9 188.99 L653.4 188.72 L654.9 188.45 L656.4 188.16 L657.9 187.84 L659.4 187.5 L660.9 187.14 L662.4 186.74 L663.9 186.32 L665.4 185.86 L666.9 185.37 L668.4 184.85 L669.9 184.3 L671.4 183.7 L672.9 183.07 L674.4 182.41 L675.9 181.7 L677.4 180.95 L678.9 180.16 L680.4 179.33 L681.9 178.45 L683.4 177.53 L684.9 176.56 L686.4 175.55 L687.9 174.49 L689.4 173.39 L690.9 172.25 L692.4 171.08 L693.9 169.87 L695.4 168.63 L696.9 167.36 L698.4 166.06 L699.9 164.73 L701.4 163.39 L702.9 162.02 L704.4 160.63 L705.9 159.22 L707.4 157.8 L708.9 156.37 L710.4 154.92 L711.9 153.47 L713.4 152.02 L714.9 150.56 L716.4 149.09 L717.9 147.63 L719.4 146.17 L720.9 144.72 L722.4 143.28 L723.9 141.84 L725.4 140.42 L726.9 139.01 L728.4 137.62 L729.9 136.24 L731.4 134.89 L732.9 133.56 L734.4 132.25 L735.9 130.98 L737.4 129.73 L738.9 128.5 L740.4 127.31 L741.9 126.15 L743.4 125.02 L744.9 123.92 L746.4 122.85 L747.9 121.82 L749.4 120.82 L750.9 119.85 L752.4 118.92 L753.9 118.02 L755.4 117.16 L756.9 116.34 L758.4 115.56 L759.9 114.81 L761.4 114.11 L762.9 113.43 L764.4 112.8 L765.9 112.19 L767.4 111.62 L768.9 111.07 L770.4 110.55 L771.9 110.05 L773.4 109.58 L774.9 109.13 L776.4 108.7 L777.9 108.28 L779.4 107.88 L780.9 107.49 L782.4 107.12 L783.9 106.75 L785.4 106.39 L786.9 106.04 L788.4 105.69 L789.9 105.35 L791.4 105 L792.9 104.65 L794.4 104.3 L795.9 103.94 L797.4 103.57 L798.9 103.19 L800.4 102.8 L801.9 102.4 L803.4 101.98 L804.9 101.54 L806.4 101.08 L807.9 100.6 L809.4 100.1 L810.9 99.57 L812.4 99.01 L813.9 98.42 L815.4 97.81 L816.9 97.16 L818.4 96.49 L819.9 95.78 L821.4 95.03 L822.9 94.26 L824.4 93.45 L825.9 92.6 L827.4 91.71 L828.9 90.79 L830.4 89.83 L831.9 88.83 L833.4 87.79 L834.9 86.7 L836.4 85.58 L837.9 84.42 L839.4 83.22 L840.9 81.99 L842.4 80.73 L843.9 79.44 L845.4 78.13 L846.9 76.8 L848.4 75.45 L849.9 74.08 L851.4 72.7 L852.9 71.3 L854.4 69.9 L855.9 68.5 L857.4 67.09 L858.9 65.68 L860.4 64.27 L861.9 62.87 L863.4 61.47 L864.9 60.09 L866.4 58.72 L867.9 57.37 L869.4 56.03 L870.9 54.72 L872.4 53.43 L873.9 52.16 L875.4 50.93 L876.9 49.72 L878.4 48.55 L879.9 47.41 L881.4 46.31 L882.9 45.25 L884.4 44.24 L885.9 43.27 L887.4 42.34 L888.9 41.47 L890.4 40.64 L891.9 39.87 L893.4 39.15 L894.9 38.48 L896.4 37.86 L897.9 37.28 L899.4 36.75 L900.9 36.25 L902.4 35.8 L903.9 35.38 L905.4 34.99 L906.9 34.64 L908.4 34.32 L909.9 34.03 L911.4 33.77 L912.9 33.53 L914.4 33.32 L915.9 33.13 L917.4 32.95 L918.9 32.79 L920.4 32.65 L921.9 32.52 L923.4 32.41 L924.9 32.3 L926.4 32.2 L927.9 32.1 L929.4 32.01 L930.9 31.92 L932.4 31.83 L933.9 31.73 L935.4 31.64 L936.9 31.53 L938.4 31.42 L939.9 31.29 L941.4 31.15 L942.9 31 L944.4 30.83 L945.9 30.65 L947.4 30.44 L948.9 30.21 L950.4 29.96 L951.9 29.68 L953.4 29.37 L954.9 29.03 L956.4 28.66 L957.9 28.25 L959.4 27.81 L961.2 27.22" stroke="#bf00bf" stroke-linecap="butt" stroke-dasharray="3.00 4.95"/>
</g>
<line x1="115.3" y1="38.2" x2="165.3" y2="38.2" stroke="#ff0000" stroke-width="3" stroke-linecap="square" />
<g transform="translate(184 46.7) scale(1.0 1.025)"><text font-size="24.8" xml:space="preserve">ONCV PBE, <tspan class="it" dx="-1.5">S</tspan><tspan class="it" font-size="19.34" dy="4.10">e</tspan><tspan dy="-4.10"> <tspan dy="1.85">=</tspan><tspan dy="-1.85"> </tspan><tspan class="one">1</tspan>.<tspan class="one">1</tspan>7 (eV/Å)</tspan></text><use href="#g1" transform="translate(196.02 0.00) scale(0.02480)" stroke="#000" stroke-width="24.2"/><use href="#g1" transform="translate(216.71 0.00) scale(0.02480)" stroke="#000" stroke-width="24.2"/></g>
<line x1="115.3" y1="80.0" x2="165.3" y2="80.0" stroke="#0000ff" stroke-width="3" stroke-linecap="butt" stroke-dasharray="11.10 4.80"/>
<g transform="translate(184 88.5) scale(1.0 1.025)"><text font-size="24.8" xml:space="preserve">HSCV LDA, <tspan class="it" dx="-1.5">S</tspan><tspan class="it" font-size="19.34" dy="4.10">e</tspan><tspan dy="-4.10"><tspan dy="1.85">=</tspan><tspan dy="-1.85"> </tspan><tspan class="one">1</tspan>.<tspan class="one">1</tspan>8 (eV/Å)</tspan></text><use href="#g1" transform="translate(185.00 4.10) scale(0.02480)" stroke="#000" stroke-width="24.2"/><use href="#g1" transform="translate(205.69 4.10) scale(0.02480)" stroke="#000" stroke-width="24.2"/></g>
<line x1="115.3" y1="121.7" x2="165.3" y2="121.7" stroke="#008000" stroke-width="3" stroke-linecap="butt" stroke-dasharray="19.20 4.80 3.00 4.80"/>
<g transform="translate(184 130.2) scale(1.0 1.025)"><text font-size="24.8" xml:space="preserve">PZ-VBC LDA, <tspan class="it" dx="-1.5">S</tspan><tspan class="it" font-size="19.34" dy="4.10">e</tspan><tspan dy="-4.10"><tspan dy="1.85">=</tspan><tspan dy="-1.85"> </tspan><tspan class="one">1</tspan>.20 (eV/Å)</tspan></text><use href="#g1" transform="translate(207.03 4.10) scale(0.02480)" stroke="#000" stroke-width="24.2"/></g>
<line x1="115.3" y1="163.5" x2="165.3" y2="163.5" stroke="#bf00bf" stroke-width="3" stroke-linecap="butt" stroke-dasharray="3.00 4.95"/>
<g transform="translate(184 172) scale(1.0 1.025)"><text font-size="24.8" xml:space="preserve">OPIUM LDA, <tspan class="it" dx="-1.5">S</tspan><tspan class="it" font-size="19.34" dy="4.10">e</tspan><tspan dy="-4.10"> <tspan dy="1.85">=</tspan><tspan dy="-1.85"> </tspan><tspan class="one">1</tspan>.24 (eV/Å)</tspan></text><use href="#g1" transform="translate(204.29 0.00) scale(0.02480)" stroke="#000" stroke-width="24.2"/></g>
<rect x="93.5" y="1.1" width="906.5" height="572.4" fill="none" stroke="#000" stroke-width="2.7"/>
<line x1="83" y1="547.6" x2="93.5" y2="547.6" stroke="#000" stroke-width="2.5"/>
<g transform="translate(72.6 558.8) scale(1.0 1.025)"><text font-size="29.6" text-anchor="end" >0</text></g>
<line x1="83" y1="450.66" x2="93.5" y2="450.66" stroke="#000" stroke-width="2.5"/>
<g transform="translate(72.6 461.86) scale(1.0 1.025)"><text font-size="29.6" text-anchor="end" >2</text></g>
<line x1="83" y1="353.72" x2="93.5" y2="353.72" stroke="#000" stroke-width="2.5"/>
<g transform="translate(72.6 364.92) scale(1.0 1.025)"><text font-size="29.6" text-anchor="end" >4</text></g>
<line x1="83" y1="256.78" x2="93.5" y2="256.78" stroke="#000" stroke-width="2.5"/>
<g transform="translate(72.6 267.98) scale(1.0 1.025)"><text font-size="29.6" text-anchor="end" >6</text></g>
<line x1="83" y1="159.84" x2="93.5" y2="159.84" stroke="#000" stroke-width="2.5"/>
<g transform="translate(72.6 171.04) scale(1.0 1.025)"><text font-size="29.6" text-anchor="end" >8</text></g>
<line x1="83" y1="62.9" x2="93.5" y2="62.9" stroke="#000" stroke-width="2.5"/>
<g transform="translate(72.6 74.1) scale(1.0 1.025)"><text font-size="29.6" text-anchor="end" ><tspan class="one">1</tspan>0</text><use href="#g1" transform="translate(-32.93 0.00) scale(0.02960)" stroke="#000" stroke-width="20.3"/></g>
<line x1="134.4" y1="573.5" x2="134.4" y2="583.7" stroke="#000" stroke-width="2.5"/>
<line x1="410.1" y1="573.5" x2="410.1" y2="583.7" stroke="#000" stroke-width="2.5"/>
<line x1="685.8" y1="573.5" x2="685.8" y2="583.7" stroke="#000" stroke-width="2.5"/>
<line x1="961.5" y1="573.5" x2="961.5" y2="583.7" stroke="#000" stroke-width="2.5"/>
<g transform="translate(133.8 616) scale(1.0 1.025)"><text font-size="29.6" text-anchor="middle" >0</text></g>
<g transform="translate(399.3 610.1) scale(1.0 1.025)"><text font-size="21.3" text-anchor="middle" >1</text></g><rect x="392.3" y="615.3" width="14" height="2.4" fill="#000"/><g transform="translate(399.3 634.8) scale(1.0 1.025)"><text font-size="21.3" text-anchor="middle" >2</text></g><g transform="translate(409.2 622.8) scale(1.05 1.0)"><text font-size="30.5" class="it" style="stroke-width:0.25px">a</text></g>
<g transform="translate(684.3 614.6) scale(1.05 1.0)"><text font-size="30.5" text-anchor="middle" class="it" style="stroke-width:0.25px">a</text></g>
<g transform="translate(950.7 610.1) scale(1.0 1.025)"><text font-size="21.3" text-anchor="middle" >3</text></g><rect x="943.7" y="615.3" width="14" height="2.4" fill="#000"/><g transform="translate(950.7 634.8) scale(1.0 1.025)"><text font-size="21.3" text-anchor="middle" >2</text></g><g transform="translate(960.6 622.8) scale(1.05 1.0)"><text font-size="30.5" class="it" style="stroke-width:0.25px">a</text></g>
<g transform="translate(546.7 676) scale(1.0 1.025)"><text font-size="29.6" text-anchor="middle" >Projectile displacement (a <tspan dy="2.34">=</tspan><tspan dy="-2.34"> </tspan>5.43 Å)</text></g>
<g transform="translate(21.7 287.3) rotate(-90) scale(1.0 1.025)"><text font-size="29.6" text-anchor="middle" >Electron Excitation Energy (eV)</text></g>
<rect x="638.4" y="319.4" width="319.20000000000005" height="133.8" fill="#F9F7F2"/>
<line x1="638.4" y1="419.6" x2="957.6" y2="419.6" stroke="#fff" stroke-width="3" stroke-dasharray="11.1 4.8"/>
<line x1="638.4" y1="368.9" x2="957.6" y2="368.9" stroke="#fff" stroke-width="3" stroke-dasharray="11.1 4.8"/>
<line x1="652.7" y1="453.2" x2="652.7" y2="319.4" stroke="#fff" stroke-width="3" stroke-dasharray="11.1 4.8"/>
<line x1="797.8" y1="453.2" x2="797.8" y2="319.4" stroke="#fff" stroke-width="3" stroke-dasharray="11.1 4.8"/>
<line x1="942.9" y1="453.2" x2="942.9" y2="319.4" stroke="#fff" stroke-width="3" stroke-dasharray="11.1 4.8"/>
<polyline points="652.7,398.81 696.38,349.89 754.12,358.76 797.8,324.99 841.48,413.82 899.22,446.72 942.9,438.71" fill="none" stroke="#008000" stroke-width="3" stroke-dashoffset="5" stroke-dasharray="19.20 4.80 3.00 4.80"/>
<clipPath id="ic"><rect x="638.4" y="319.4" width="319.20000000000005" height="133.8"/></clipPath><g clip-path="url(#ic)">
<circle cx="652.7" cy="398.81" r="4.5" fill="#ff0000" stroke="#008000" stroke-width="3.3"/>
<circle cx="696.38" cy="349.89" r="4.5" fill="#ff0000" stroke="#008000" stroke-width="3.3"/>
<circle cx="754.12" cy="358.76" r="4.5" fill="#ff0000" stroke="#008000" stroke-width="3.3"/>
<circle cx="797.8" cy="324.99" r="4.5" fill="#ff0000" stroke="#008000" stroke-width="3.3"/>
<circle cx="841.48" cy="413.82" r="4.5" fill="#ff0000" stroke="#008000" stroke-width="3.3"/>
<circle cx="899.22" cy="446.72" r="4.5" fill="#ff0000" stroke="#008000" stroke-width="3.3"/>
<circle cx="942.9" cy="438.71" r="4.5" fill="#ff0000" stroke="#008000" stroke-width="3.3"/>
</g>
<rect x="638.4" y="319.4" width="319.20000000000005" height="133.8" fill="none" stroke="#000" stroke-width="2.4"/>
<line x1="628" y1="419.6" x2="638.4" y2="419.6" stroke="#000" stroke-width="2.4"/>
<g transform="translate(617.4 430.4) scale(1.0 1.025)"><text font-size="29.6" text-anchor="end" ><tspan class="one">1</tspan></text><use href="#g1" transform="translate(-16.46 0.00) scale(0.02960)" stroke="#000" stroke-width="20.3"/></g>
<line x1="628" y1="368.9" x2="638.4" y2="368.9" stroke="#000" stroke-width="2.4"/>
<g transform="translate(617.4 379.7) scale(1.0 1.025)"><text font-size="29.6" text-anchor="end" >2</text></g>
<line x1="638.64" y1="453.2" x2="638.64" y2="458.4" stroke="#000" stroke-width="1.8"/>
<line x1="646.06" y1="453.2" x2="646.06" y2="458.4" stroke="#000" stroke-width="1.8"/>
<line x1="652.7" y1="453.2" x2="652.7" y2="463.6" stroke="#000" stroke-width="2.4"/>
<line x1="696.38" y1="453.2" x2="696.38" y2="458.4" stroke="#000" stroke-width="1.8"/>
<line x1="721.93" y1="453.2" x2="721.93" y2="458.4" stroke="#000" stroke-width="1.8"/>
<line x1="740.06" y1="453.2" x2="740.06" y2="458.4" stroke="#000" stroke-width="1.8"/>
<line x1="754.12" y1="453.2" x2="754.12" y2="458.4" stroke="#000" stroke-width="1.8"/>
<line x1="765.61" y1="453.2" x2="765.61" y2="458.4" stroke="#000" stroke-width="1.8"/>
<line x1="775.32" y1="453.2" x2="775.32" y2="458.4" stroke="#000" stroke-width="1.8"/>
<line x1="783.74" y1="453.2" x2="783.74" y2="458.4" stroke="#000" stroke-width="1.8"/>
<line x1="791.16" y1="453.2" x2="791.16" y2="458.4" stroke="#000" stroke-width="1.8"/>
<line x1="797.8" y1="453.2" x2="797.8" y2="463.6" stroke="#000" stroke-width="2.4"/>
<line x1="841.48" y1="453.2" x2="841.48" y2="458.4" stroke="#000" stroke-width="1.8"/>
<line x1="867.03" y1="453.2" x2="867.03" y2="458.4" stroke="#000" stroke-width="1.8"/>
<line x1="885.16" y1="453.2" x2="885.16" y2="458.4" stroke="#000" stroke-width="1.8"/>
<line x1="899.22" y1="453.2" x2="899.22" y2="458.4" stroke="#000" stroke-width="1.8"/>
<line x1="910.71" y1="453.2" x2="910.71" y2="458.4" stroke="#000" stroke-width="1.8"/>
<line x1="920.42" y1="453.2" x2="920.42" y2="458.4" stroke="#000" stroke-width="1.8"/>
<line x1="928.84" y1="453.2" x2="928.84" y2="458.4" stroke="#000" stroke-width="1.8"/>
<line x1="936.26" y1="453.2" x2="936.26" y2="458.4" stroke="#000" stroke-width="1.8"/>
<line x1="942.9" y1="453.2" x2="942.9" y2="463.6" stroke="#000" stroke-width="2.4"/>
<g transform="translate(629.5 496) scale(1.0 1.025)"><text font-size="29.6" ><tspan class="one">1</tspan>0<tspan font-size="21.5" dx="-2.2" dy="-10.34">3</tspan></text><use href="#g1" transform="translate(0.00 0.00) scale(0.02960)" stroke="#000" stroke-width="20.3"/></g>
<g transform="translate(774.6 496) scale(1.0 1.025)"><text font-size="29.6" ><tspan class="one">1</tspan>0<tspan font-size="21.5" dx="-2.2" dy="-10.34">4</tspan></text><use href="#g1" transform="translate(0.00 0.00) scale(0.02960)" stroke="#000" stroke-width="20.3"/></g>
<g transform="translate(919.7 496) scale(1.0 1.025)"><text font-size="29.6" ><tspan class="one">1</tspan>0<tspan font-size="21.5" dx="-2.2" dy="-10.34">5</tspan></text><use href="#g1" transform="translate(0.00 0.00) scale(0.02960)" stroke="#000" stroke-width="20.3"/></g>
<g transform="translate(797.8 536.6) scale(1.0 1.025)"><text font-size="29.6" text-anchor="middle" >Projectile kinetic energy (eV)</text></g>
<g transform="translate(582.7 387) rotate(-90) scale(1.0 1.025)"><text font-size="29.6" text-anchor="middle" >% Deviation</text></g>
<g transform="translate(639.5 302) scale(1.0 1.025)"><text font-size="23.7" xml:space="preserve"><tspan class="it">S</tspan><tspan class="it" font-size="18.49" dy="3.90">e</tspan><tspan dy="-3.90">: HSCV LDA vs ONCV PBE</tspan></text></g>
</svg></body></html>
